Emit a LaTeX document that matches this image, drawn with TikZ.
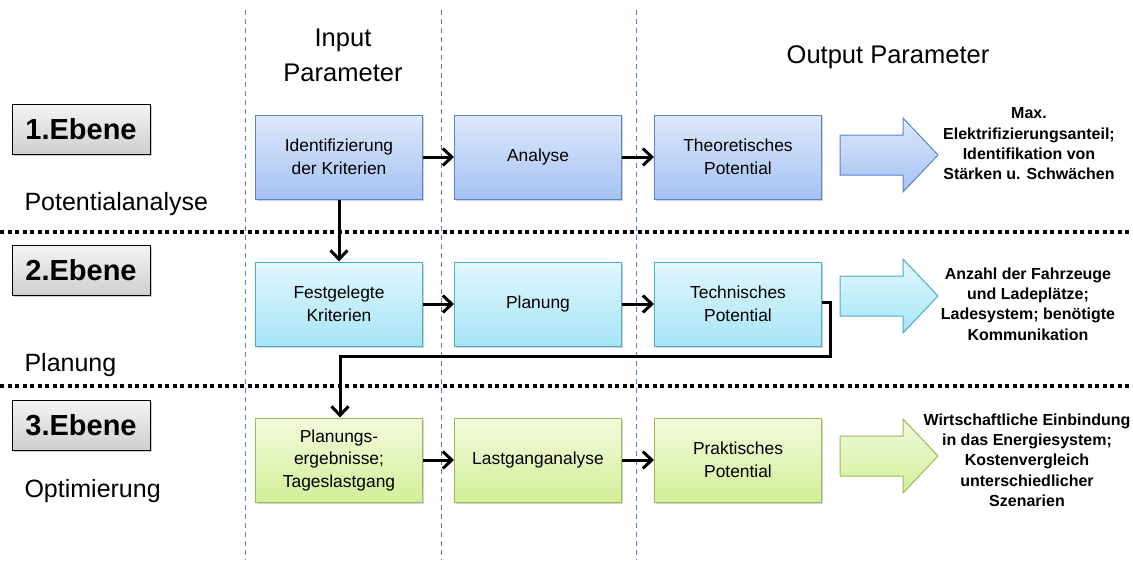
\documentclass[tikz,border=0pt]{standalone}
\usepackage{fontspec}
\setmainfont{Liberation Sans}
\usetikzlibrary{arrows.meta,shadows,calc}
\definecolor{bluetop}{HTML}{DDE8FB}
\definecolor{bluebot}{HTML}{A5C2F3}
\definecolor{blueline}{HTML}{5A84C4}
\definecolor{cyantop}{HTML}{E2F7FD}
\definecolor{cyanbot}{HTML}{A6E5F6}
\definecolor{cyanline}{HTML}{4BACC6}
\definecolor{greentop}{HTML}{F2FADD}
\definecolor{greenbot}{HTML}{D2EF98}
\definecolor{greenline}{HTML}{9BBB59}
\definecolor{sepblue}{HTML}{4F81BD}
\tikzset{
  flowbox/.style={draw, line width=1pt, minimum width=167pt, minimum height=84pt, align=center, font=\fontsize{17.4}{22.5}\selectfont, drop shadow={shadow xshift=1.5pt, shadow yshift=-2pt, opacity=0.35}},
  bluebox/.style={flowbox, draw=blueline, top color=bluetop, bottom color=bluebot},
  cyanbox/.style={flowbox, draw=cyanline, top color=cyantop, bottom color=cyanbot},
  greenbox/.style={flowbox, draw=greenline, top color=greentop, bottom color=greenbot},
  ebenebox/.style={draw=black, line width=1pt, minimum width=138pt, minimum height=50pt, top color=gray!8, bottom color=gray!38, font=\fontsize{29}{32}\selectfont\bfseries, drop shadow={shadow xshift=1.5pt, shadow yshift=-2pt, opacity=0.4}},
  leveltext/.style={anchor=west, font=\fontsize{25}{28}\selectfont},
  outtext/.style={align=center, font=\fontsize{16}{20.3}\selectfont\bfseries},
  headtext/.style={align=center, font=\fontsize{25.5}{35}\selectfont},
  flowarrow/.style={line width=3pt, -{Straight Barb[length=9pt,width=17pt,line width=3pt]}},
  sepdash/.style={sepblue, line width=1pt, dash pattern=on 5pt off 4pt},
  sepdot/.style={black, line width=4pt, dash pattern=on 4pt off 3.5pt},
}
\begin{document}
\begin{tikzpicture}[x=1pt,y=-1pt]
\useasboundingbox (0,0) rectangle (1133,568);
% separators
\draw[sepdash] (245,10) -- (245,560);
\draw[sepdash] (441,10) -- (441,560);
\draw[sepdash] (636,10) -- (636,560);
\draw[sepdot] (0,232) -- (1133,232);
\draw[sepdot] (0,386) -- (1133,386);
% headers
\node[headtext] (hin) at (343,55) {Input\\Parameter};
\node[headtext] (hout) at (888,57) {Output Parameter};
% levels
\node[ebenebox] (e1) at (81,129) {1.Ebene};
\node[ebenebox] (e2) at (81,270) {2.Ebene};
\node[ebenebox] (e3) at (81,425) {3.Ebene};
\node[leveltext] (l1) at (21,204) {Potentialanalyse};
\node[leveltext] (l2) at (21,365) {Planung};
\node[leveltext] (l3) at (21,491) {Optimierung};
% boxes
\node[bluebox] (a1) at (339,157) {Identifizierung\\der Kriterien};
\node[bluebox] (a2) at (538,157) {Analyse};
\node[bluebox] (a3) at (738,157) {Theoretisches\\Potential};
\node[cyanbox] (b1) at (339,304) {Festgelegte\\Kriterien};
\node[cyanbox] (b2) at (538,304) {Planung};
\node[cyanbox] (b3) at (738,304) {Technisches\\Potential};
\node[greenbox] (c1) at (339,460) {Planungs-\\ergebnisse;\\Tageslastgang};
\node[greenbox] (c2) at (538,460) {Lastganganalyse};
\node[greenbox] (c3) at (738,460) {Praktisches\\Potential};
% connectors
\draw[flowarrow] (a1) -- (a2);
\draw[flowarrow] (a2) -- (a3);
\draw[flowarrow] (b1) -- (b2);
\draw[flowarrow] (b2) -- (b3);
\draw[flowarrow] (c1) -- (c2);
\draw[flowarrow] (c2) -- (c3);
\draw[flowarrow] (a1) -- (b1);
\coordinate (k1) at (830,302);
\coordinate (k2) at (830,356);
\coordinate (k3) at (340,356);
\draw[flowarrow] (b3.east |- k1) -- (k1) -- (k2) -- (k3) -- (c1.north -| k3);
% big arrows
\foreach \yc/\tc/\bc/\lc [count=\i] in {155/bluetop/bluebot/blueline, 296/cyantop/cyanbot/cyanline, 456/greentop/greenbot/greenline}{
  \path[draw=\lc, line width=1pt, top color=\tc, bottom color=\bc]
    (840,\yc-20) -- (903,\yc-20) -- (903,\yc-37) -- (938,\yc) -- (903,\yc+37) -- (903,\yc+20) -- (840,\yc+20) -- cycle;
}
% output texts
\node[outtext] (o1) at (1029,144) {Max.\\Elektrifizierungsanteil;\\Identifikation von\\Stärken u. Schwächen};
\node[outtext] (o2) at (1028,304) {Anzahl der Fahrzeuge\\und Ladeplätze;\\Ladesystem; benötigte\\Kommunikation};
\node[outtext] (o3) at (1027,460) {Wirtschaftliche Einbindung\\in das Energiesystem;\\Kostenvergleich\\unterschiedlicher\\Szenarien};
\end{tikzpicture}
\end{document}
